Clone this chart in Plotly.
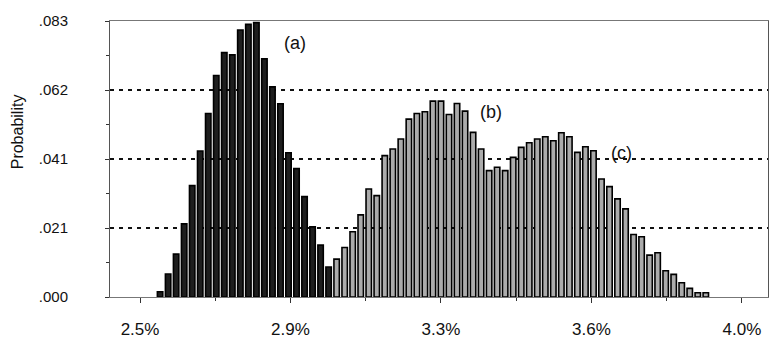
import plotly.graph_objects as go

# ---- data ----
a_x = [2.55, 2.57, 2.59, 2.61, 2.63, 2.65, 2.67, 2.69, 2.71, 2.73, 2.75,
       2.77, 2.79, 2.81, 2.83, 2.85, 2.87, 2.89, 2.91, 2.93, 2.95, 2.97]
a_vals = [0.0016, 0.0069, 0.0129, 0.0220, 0.0335, 0.0439, 0.0552, 0.0666,
          0.0735, 0.0728, 0.0803, 0.0820, 0.0825, 0.0716, 0.0632, 0.0581,
          0.0434, 0.0386, 0.0302, 0.0211, 0.0156, 0.0090]

b_x = [2.99, 3.01, 3.03, 3.05, 3.07, 3.09, 3.11, 3.13, 3.15, 3.17, 3.19,
       3.21, 3.23, 3.25, 3.27, 3.29, 3.31, 3.33, 3.35, 3.37, 3.39]
b_vals = [0.0114, 0.0149, 0.0196, 0.0247, 0.0325, 0.0305, 0.0425, 0.0445,
          0.0475, 0.0535, 0.0552, 0.0557, 0.0589, 0.0589, 0.0549, 0.0582,
          0.0559, 0.0495, 0.0445, 0.0380, 0.0390]

c_x = [3.41, 3.43, 3.45, 3.47, 3.49, 3.51, 3.53, 3.55, 3.57, 3.59, 3.61,
       3.63, 3.65, 3.67, 3.69, 3.71, 3.73, 3.75, 3.77, 3.79, 3.81, 3.83,
       3.85, 3.87, 3.89, 3.91]
c_vals = [0.0380, 0.0420, 0.0450, 0.0464, 0.0475, 0.0482, 0.0470, 0.0494,
          0.0482, 0.0435, 0.0452, 0.0440, 0.0355, 0.0332, 0.0295, 0.0265,
          0.0188, 0.0181, 0.0126, 0.0133, 0.0079, 0.0068, 0.0043, 0.0026,
          0.0013, 0.0013]

x_tickvals = [2.5, 2.875, 3.25, 3.625, 4.0]
x_ticktext = ["2.5%", "2.9%", "3.3%", "3.6%", "4.0%"]
x_minor = [2.6875, 3.0625, 3.4375, 3.8125]

y_tickvals = [0.0, 0.02075, 0.0415, 0.06225, 0.083]
y_ticktext = [".000", ".021", ".041", ".062", ".083"]
y_minor = [0.010375, 0.031125, 0.051875, 0.072625]
grid_vals = [0.02075, 0.0415, 0.06225]

labels = ["(a)", "(b)", "(c)"]
label_x = [2.886, 3.375, 3.701]
label_y = [0.0764, 0.0556, 0.0433]

FONT = "Liberation Sans, Arial, sans-serif"

fig = go.Figure()
for xs, ys, fill in [(a_x, a_vals, "#1e1e1e"), (b_x, b_vals, "#ababab"), (c_x, c_vals, "#ababab")]:
    fig.add_trace(go.Bar(
        x=xs, y=ys, width=0.0135,
        marker=dict(color=fill, line=dict(color="#000000", width=1.6)),
        showlegend=False,
    ))

for g in grid_vals:
    fig.add_shape(type="line", xref="paper", yref="y", x0=0, x1=1, y0=g, y1=g,
                  line=dict(color="#111111", width=2, dash="4px,5px"), layer="below")

for t, x, y in zip(labels, label_x, label_y):
    fig.add_annotation(x=x, y=y, text=t, showarrow=False,
                       font=dict(family=FONT, size=18, color="#111111"))

fig.add_annotation(xref="paper", yref="paper", x=-0.14, y=0.6, text="Probability",
                   textangle=-90, showarrow=False, xanchor="center", yanchor="middle",
                   font=dict(family=FONT, size=16, color="#111111"))

fig.update_layout(
    template="none",
    width=769, height=339,
    margin=dict(l=110, r=1, t=21, b=42, autoexpand=False),
    plot_bgcolor="white", paper_bgcolor="white",
    bargap=0, barmode="overlay",
    font=dict(family=FONT, color="#111111"),
)
fig.update_xaxes(
    automargin=False,
    range=[2.4252, 4.065], tickvals=x_tickvals, ticktext=x_ticktext,
    ticks="outside", ticklen=5, tickcolor="#333", tickwidth=1,
    minor=dict(tickvals=x_minor, ticks="outside", ticklen=3, tickcolor="#333", showgrid=False),
    showgrid=False, zeroline=False, showline=True, linecolor="#777", linewidth=1,
    mirror=True, tickfont=dict(size=17, family=FONT, color="#111111"),
    ticklabelstandoff=12,
)
fig.update_yaxes(
    automargin=False,
    range=[0, 0.083], tickvals=y_tickvals, ticktext=y_ticktext,
    ticks="outside", ticklen=4, tickcolor="#333", tickwidth=1,
    minor=dict(tickvals=y_minor, ticks="outside", ticklen=3, tickcolor="#333", showgrid=False),
    showgrid=False, zeroline=False, showline=True, linecolor="#555", linewidth=1,
    mirror=True, tickfont=dict(size=15, family=FONT, color="#111111"),
    ticklabelstandoff=34,
)

fig.write_html(
    "out.html",
    config={"displayModeBar": False, "staticPlot": True},
    post_script="document.body.style.margin='0';document.body.style.padding='0';"
                "document.documentElement.style.overflow='hidden';",
)
